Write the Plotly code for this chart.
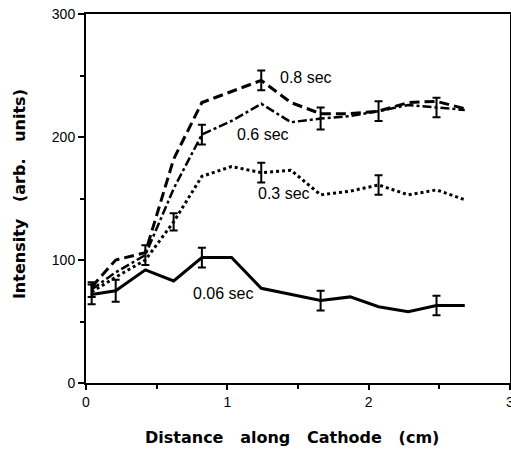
import plotly.graph_objects as go

# Distance along cathode (cm)
x_pos = [0.04, 0.21, 0.42, 0.62, 0.82, 1.03, 1.24, 1.45, 1.66, 1.87, 2.07, 2.28, 2.48, 2.68]

# Intensity (arb. units) for each exposure time
i_006 = [72, 75, 92, 83, 102, 102, 77, 72, 67, 70, 62, 58, 63, 63]
i_03 = [74, 86, 100, 131, 168, 176, 171, 173, 153, 156, 161, 153, 157, 149]
i_06 = [76, 90, 104, 158, 202, 213, 227, 212, 215, 217, 221, 226, 224, 222]
i_08 = [78, 100, 106, 182, 228, 237, 246, 228, 219, 219, 221, 228, 229, 223]

# error bars (half-width), None = no bar
e_006 = [8, 9, None, None, 8, None, None, None, 8, None, None, None, 8, None]
e_03 = [None, None, None, 7, None, None, 8, None, None, None, 8, None, None, None]
e_06 = [6, None, 8, None, 8, None, None, None, 9, None, 8, None, 8, None]
e_08 = [None, None, None, None, None, None, 8, None, None, None, None, None, None, None]

labels = ["0.06 sec", "0.3 sec", "0.6 sec", "0.8 sec"]
label_x = [0.97, 1.40, 1.25, 1.56]
label_y = [73, 154, 202, 248]

x_ticks = [0, 1, 2, 3]
y_ticks = [0, 100, 200, 300]

SP = "\u00a0\u00a0\u00a0"
x_title = SP.join(["Distance", "along", "Cathode", "(cm)"])
y_title = SP.join(["Intensity", "(arb.", "units)"])

FONT = "Liberation Sans, Arial, Helvetica"
TFONT = "DejaVu Sans"

fig = go.Figure()

def add_series(y, err, dash, width, name):
    fig.add_trace(go.Scatter(x=x_pos, y=y, mode="lines", name=name,
                             line=dict(color="black", width=width, dash=dash),
                             showlegend=False, hoverinfo="skip"))
    ex = [x for x, e in zip(x_pos, err) if e is not None]
    ey = [v for v, e in zip(y, err) if e is not None]
    ee = [e for e in err if e is not None]
    fig.add_trace(go.Scatter(x=ex, y=ey, mode="markers",
                             marker=dict(size=1, color="black", opacity=0),
                             error_y=dict(type="data", array=ee, visible=True,
                                          color="black", thickness=2, width=4),
                             showlegend=False, hoverinfo="skip"))

add_series(i_006, e_006, "solid", 3, labels[0])
add_series(i_03, e_03, "dot", 3, labels[1])
add_series(i_06, e_06, "dashdot", 2.5, labels[2])
add_series(i_08, e_08, "10px,5px", 3, labels[3])

for t, lx, ly in zip(labels, label_x, label_y):
    fig.add_annotation(x=lx, y=ly, text=t, showarrow=False,
                       font=dict(family=FONT, size=16, color="black"))

# axis titles
fig.add_annotation(xref="paper", yref="paper", x=0.486, y=-0.149, yanchor="middle",
                   text=x_title, showarrow=False,
                   font=dict(family=TFONT, size=16, color="black", weight="bold"))
fig.add_annotation(xref="paper", yref="paper", x=-0.158, y=0.512, xanchor="center",
                   text=y_title, showarrow=False, textangle=-90,
                   font=dict(family=TFONT, size=16, color="black", weight="bold"))

fig.update_layout(
    width=511, height=450,
    margin=dict(l=86, r=1, t=14, b=67),
    paper_bgcolor="white", plot_bgcolor="white",
    font=dict(family=FONT, color="black"),
)
fig.update_xaxes(
    range=[0, 3], tickvals=x_ticks, ticktext=[str(v) for v in x_ticks],
    automargin=False, ticklabeloverflow="allow",
    showgrid=False, zeroline=False, showline=True, linecolor="black", linewidth=2,
    mirror=True, ticks="outside", ticklen=5, tickwidth=2, tickcolor="black",
    minor=dict(tickvals=[0.5, 1.5, 2.5], ticks="outside", ticklen=4, tickwidth=2, tickcolor="black"),
    tickfont=dict(size=14),
)
fig.update_yaxes(
    range=[0, 300], tickvals=y_ticks, ticktext=[str(v) for v in y_ticks],
    automargin=False,
    showgrid=False, zeroline=False, showline=True, linecolor="black", linewidth=2,
    mirror=True, ticks="outside", ticklen=6, tickwidth=2, tickcolor="black",
    minor=dict(tickvals=[50, 150, 250], ticks="outside", ticklen=4, tickwidth=2, tickcolor="black"),
    tickfont=dict(size=14),
)

fig.write_html("out.html", config={"displayModeBar": False},
               post_script="document.body.style.margin='0';document.body.style.overflow='hidden';")
